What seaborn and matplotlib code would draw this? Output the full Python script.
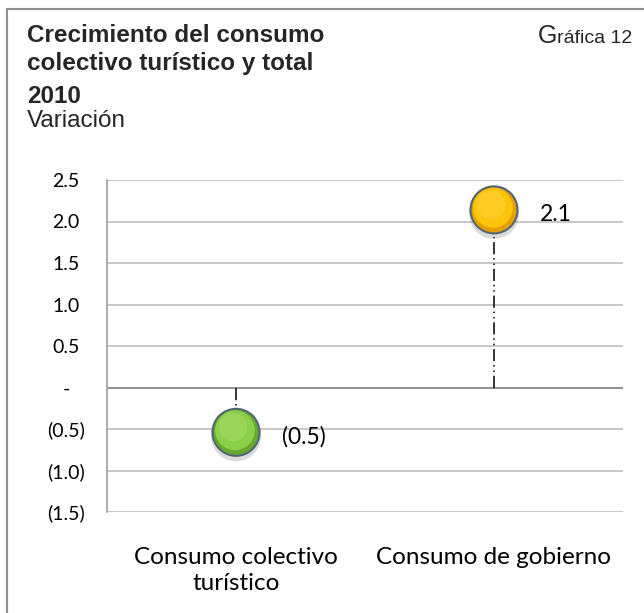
import matplotlib
matplotlib.use('Agg')
import matplotlib.pyplot as plt
import pandas as pd
import seaborn as sns
from matplotlib.lines import Line2D
from matplotlib.transforms import offset_copy

categories = ['Consumo colectivo\nturístico', 'Consumo de gobierno']
values = [-0.54, 2.14]
base_colors = ['#66a92c', '#e5a000']
main_colors = ['#8ccf4a', '#fcc40a']
light_colors = ['#a8de6e', '#ffd54a']
y_ticks = [-1.5, -1.0, -0.5, 0.0, 0.5, 1.0, 1.5, 2.0, 2.5]

title_lines = ['Crecimiento del consumo', 'colectivo turístico y total', '2010']
subtitle = 'Variación'


def fmt(v):
    if abs(v) < 1e-9:
        return '-'
    return '({:.1f})'.format(abs(v)) if v < 0 else '{:.1f}'.format(v)


sns.set_theme(style='white')
plt.rcParams['font.family'] = ['Lato', 'DejaVu Sans']

df = pd.DataFrame({'x': [0, 1], 'y': values, 'cat': categories})

fig = plt.figure(figsize=(6.44, 6.13), dpi=100)
ax = fig.add_axes([107 / 644, 1 - 512 / 613, 516 / 644, 332 / 613])

ax.set_xlim(-0.5, 1.5)
ax.set_ylim(-1.5, 2.5)
for t in y_ticks:
    ax.axhline(t, color='#878787' if t == 0 else '#c3c3c3',
               lw=1.3, zorder=1)

# drop lines from zero
ax.vlines(df['x'], 0, df['y'], colors='black', lw=1.1,
          linestyles=[(0, (8, 2.5, 1, 2.5, 1, 2.5))], zorder=2)


def ball_layer(size, colors, dx=0, dy=0, alpha=1.0, z=3):
    tr = offset_copy(ax.transData, fig=fig, x=dx, y=dy, units='dots')
    sns.scatterplot(data=df, x='x', y='y', hue='cat', palette=colors,
                    s=size, linewidth=0, alpha=alpha, legend=False,
                    transform=tr, ax=ax, zorder=z)


# shadow, outline, shading layers
ball_layer(1300, ['#8a8a8a', '#8a8a8a'], dy=-4, alpha=0.3, z=3)
ball_layer(1250, ['#526576', '#526576'], z=4)
ball_layer(1050, base_colors, z=5)
ball_layer(820, main_colors, dx=-1, dy=2, z=6)
ball_layer(420, light_colors, dx=-3, dy=5, alpha=0.45, z=7)

for x, y in zip(df['x'], df['y']):
    ax.annotate(fmt(y), (x, y), xytext=(33, -3), textcoords='offset points',
                ha='left', va='center', fontsize=16.5, color='black',
                zorder=8)

sns.despine(ax=ax, left=False, bottom=True, top=True, right=True)
ax.spines['left'].set_color('#a6a6a6')
ax.spines['left'].set_linewidth(1.3)
ax.set_yticks(y_ticks)
ax.set_yticklabels([fmt(t) for t in y_ticks], fontsize=14)
for lab in ax.get_yticklabels():
    lab.set_horizontalalignment('center')
ax.tick_params(axis='y', length=0, pad=29.5, colors='black')
ax.set_xticks([0, 1])
ax.set_xticklabels(categories, fontsize=17.5, linespacing=1.3)
ax.tick_params(axis='x', length=0, pad=25, colors='black')
ax.set_xlabel('')
ax.set_ylabel('')

# titles
title_font = ['Liberation Sans', 'DejaVu Sans']
for line, base in zip(title_lines, [42, 70, 103]):
    fig.text(27 / 644, 1 - base / 613, line, fontsize=17.5,
             fontweight='bold', family=title_font, va='baseline')
fig.text(27 / 644, 1 - 127 / 613, subtitle, fontsize=17.5,
         family=title_font, va='baseline')
rest = fig.text(632 / 644, 1 - 43 / 613, 'ráfica 12', fontsize=14,
                family=title_font, ha='right', va='baseline')
fig.canvas.draw()
x0 = rest.get_window_extent().x0 / fig.bbox.width
fig.text(x0, 1 - 43 / 613, 'G', fontsize=18,
         family=title_font, ha='right', va='baseline')

# outer frame (left and top only)
fig.add_artist(Line2D([7 / 644, 7 / 644], [0, 1 - 9 / 613],
                      transform=fig.transFigure, color='#8f8f8f', lw=1.5))
fig.add_artist(Line2D([7 / 644, 1], [1 - 9 / 613, 1 - 9 / 613],
                      transform=fig.transFigure, color='#8f8f8f', lw=1.5))

fig.savefig('out.png', dpi=100)
